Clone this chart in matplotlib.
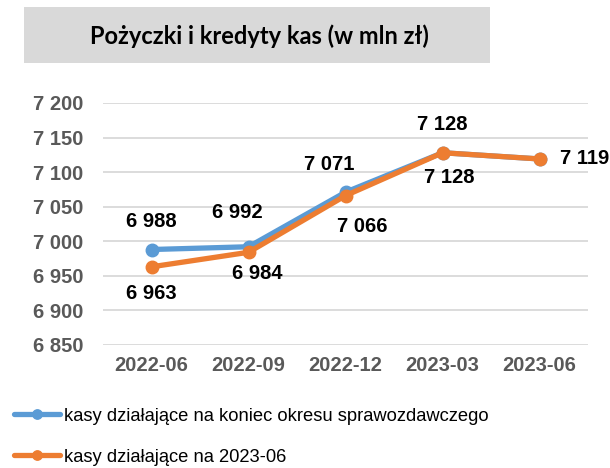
import matplotlib.pyplot as plt
from matplotlib.patches import Rectangle

periods = ['2022-06', '2022-09', '2022-12', '2023-03', '2023-06']
kasy_koniec = [6988, 6992, 7071, 7128, 7119]
kasy_2023 = [6963, 6984, 7066, 7128, 7119]
yticks = [6850, 6900, 6950, 7000, 7050, 7100, 7150, 7200]

BLUE = '#5b9bd5'
ORANGE = '#ed7d31'
GRAY = '#595959'


def fmt(v):
    return '{:,}'.format(v).replace(',', ' ')


plt.rcParams['font.family'] = ['Liberation Sans', 'DejaVu Sans']

fig = plt.figure(figsize=(6.1, 4.68), dpi=100)
ax = fig.add_axes([0.169, 0.263, 0.795, 0.517])

x = list(range(len(periods)))
ax.plot(x, kasy_koniec, color=BLUE, lw=3.8, marker='o', ms=9,
        solid_capstyle='round', label='kasy działające na koniec okresu sprawozdawczego')
ax.plot(x, kasy_2023, color=ORANGE, lw=3.8, marker='o', ms=9,
        solid_capstyle='round', label='kasy działające na 2023-06')

ax.set_xlim(-0.5, len(periods) - 0.5)
ax.set_ylim(6850, 7200)
ax.set_yticks(yticks)
ax.set_yticklabels([fmt(v) for v in yticks])
ax.set_xticks(x)
ax.set_xticklabels(periods)
ax.tick_params(length=0, labelsize=14.5, labelcolor=GRAY, pad=8)
ax.tick_params(axis='y', pad=14)
for lab in ax.get_xticklabels() + ax.get_yticklabels():
    lab.set_fontweight('bold')
ax.grid(axis='y', color='#d9d9d9', lw=1.3)
ax.set_axisbelow(True)
for s in ax.spines.values():
    s.set_visible(False)

# data labels (offsets in points)
blue_off = [(0, 20), (-8, 25), (-12, 20), (0, 20)]
orange_off = [(0, -19), (6, -15), (12, -22), (5, -18)]
lab_kw = dict(textcoords='offset points', ha='center', va='center',
              fontsize=14.5, fontweight='bold', color='black', annotation_clip=False)
for i, off in enumerate(blue_off):
    ax.annotate(fmt(kasy_koniec[i]), (x[i], kasy_koniec[i]), xytext=off, **lab_kw)
for i, off in enumerate(orange_off):
    ax.annotate(fmt(kasy_2023[i]), (x[i], kasy_2023[i]), xytext=off, **lab_kw)
ax.annotate(fmt(kasy_2023[4]), (x[4], kasy_2023[4]), xytext=(15, 0),
            textcoords='offset points', ha='left', va='center', fontsize=14.5,
            fontweight='bold', color='black', annotation_clip=False)

# title box
fig.add_artist(Rectangle((0.039, 0.865), 0.764, 0.12, transform=fig.transFigure,
                         facecolor='#d9d9d9', edgecolor='none'))
fig.text(0.426, 0.922, 'Pożyczki i kredyty kas (w mln zł)', ha='center', va='center',
         fontsize=17, fontweight='bold', family=['Lato', 'DejaVu Sans'])

fig.legend(loc='upper left', bbox_to_anchor=(0.005, 0.152), frameon=False,
           fontsize=13.2, handlelength=2.5, handletextpad=0.2, labelspacing=1.3,
           borderaxespad=0.2, markerscale=0.75)

fig.savefig('out.png', dpi=100)
